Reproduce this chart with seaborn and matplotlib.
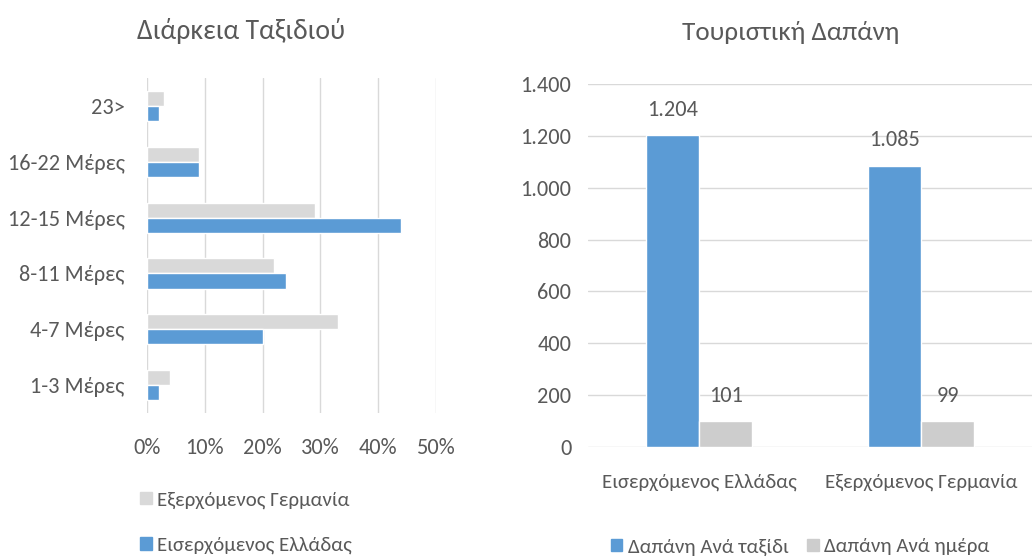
import pandas as pd
import matplotlib
matplotlib.use("Agg")
import matplotlib.pyplot as plt
import seaborn as sns
from matplotlib.patches import Patch

sns.set_theme(style="white")
plt.rcParams['font.family'] = ['Carlito', 'Noto Sans', 'DejaVu Sans']

# Διάρκεια ταξιδιού
durations = ['23>', '16-22 Μέρες', '12-15 Μέρες', '8-11 Μέρες', '4-7 Μέρες', '1-3 Μέρες']
germany_share = [0.03, 0.09, 0.29, 0.22, 0.33, 0.04]
greece_share = [0.02, 0.09, 0.44, 0.24, 0.20, 0.02]
groups = ['Εξερχόμενος Γερμανία', 'Εισερχόμενος Ελλάδας']

# Τουριστική δαπάνη
spend_cats = ['Εισερχόμενος Ελλάδας', 'Εξερχόμενος Γερμανία']
per_trip = [1204, 1085]
per_day = [101, 99]
spend_types = ['Δαπάνη Ανά ταξίδι', 'Δαπάνη Ανά ημέρα']

blue = '#5B9BD5'
gray_l = '#D9D9D9'
gray_r = '#CDCDCD'
txt = '#595959'
grid_c = '#D9D9D9'
fs = 16
fs_small = 15

dur_df = pd.DataFrame({
    'Διάρκεια': durations * 2,
    'Ποσοστό': germany_share + greece_share,
    'Ομάδα': [groups[0]] * len(durations) + [groups[1]] * len(durations),
})
sp_df = pd.DataFrame({
    'Κατηγορία': spend_cats * 2,
    'Δαπάνη': per_trip + per_day,
    'Τύπος': [spend_types[0]] * 2 + [spend_types[1]] * 2,
})

fig = plt.figure(figsize=(10.32, 5.57), dpi=100)
ax1 = fig.add_axes([0.1424, 0.2585, 0.280, 0.6014])
ax2 = fig.add_axes([0.5698, 0.1975, 0.430, 0.6517])

sns.barplot(data=dur_df, y='Διάρκεια', x='Ποσοστό', hue='Ομάδα', order=durations,
            hue_order=groups, palette=[gray_l, blue], width=0.54, saturation=1,
            legend=False, ax=ax1)
ax1.set_xlim(0, 0.5)
ax1.set_xticks([0, 0.1, 0.2, 0.3, 0.4, 0.5])
ax1.set_xticklabels([f'{int(round(v * 100))}%' for v in ax1.get_xticks()])
ax1.xaxis.grid(True, color=grid_c, linewidth=1)
ax1.set_axisbelow(True)
ax1.set_xlabel('')
ax1.set_ylabel('')
for s in ax1.spines.values():
    s.set_visible(False)
ax1.tick_params(axis='x', colors=txt, labelsize=fs, pad=18, length=0)
ax1.tick_params(axis='y', colors=txt, labelsize=fs, pad=16, length=0)

sns.barplot(data=sp_df, x='Κατηγορία', y='Δαπάνη', hue='Τύπος', order=spend_cats,
            hue_order=spend_types, palette=[blue, gray_r], width=0.48, saturation=1,
            legend=False, ax=ax2)
ax2.set_ylim(0, 1400)
ax2.set_xlim(-0.5, 1.5)
ax2.set_yticks(range(0, 1401, 200))
ax2.set_yticklabels([f'{v:,}'.replace(',', '.') for v in range(0, 1401, 200)])
ax2.yaxis.grid(True, color=grid_c, linewidth=1)
ax2.set_axisbelow(True)
ax2.set_xlabel('')
ax2.set_ylabel('')
for s in ax2.spines.values():
    s.set_visible(False)
ax2.tick_params(axis='y', colors=txt, labelsize=fs, pad=12, length=0)
ax2.tick_params(axis='x', colors=txt, labelsize=fs_small, pad=19, length=0)
for cont in ax2.containers:
    ax2.bar_label(cont, labels=[f'{int(v):,}'.replace(',', '.') for v in cont.datavalues],
                  padding=11, color=txt, fontsize=fs)

fig.text(0.234, 0.945, 'Διάρκεια Ταξιδιού', ha='center', va='center', fontsize=20, color=txt)
fig.text(0.766, 0.942, 'Τουριστική Δαπάνη', ha='center', va='center', fontsize=19.5, color=txt)

h1 = [Patch(color=gray_l), Patch(color=blue)]
fig.legend(h1, groups, loc='upper left', bbox_to_anchor=(0.128, 0.133),
           frameon=False, fontsize=fs_small, labelcolor=txt, handlelength=0.55,
           handleheight=0.55, handletextpad=0.25, labelspacing=1.35, borderaxespad=0)
h2 = [Patch(color=blue), Patch(color=gray_r)]
fig.legend(h2, spend_types, loc='center left', bbox_to_anchor=(0.584, 0.018),
           frameon=False, fontsize=fs_small, labelcolor=txt, ncol=2, handlelength=0.55,
           handleheight=0.55, handletextpad=0.25, columnspacing=0.9, borderaxespad=0)

fig.savefig('out.png', dpi=100)
